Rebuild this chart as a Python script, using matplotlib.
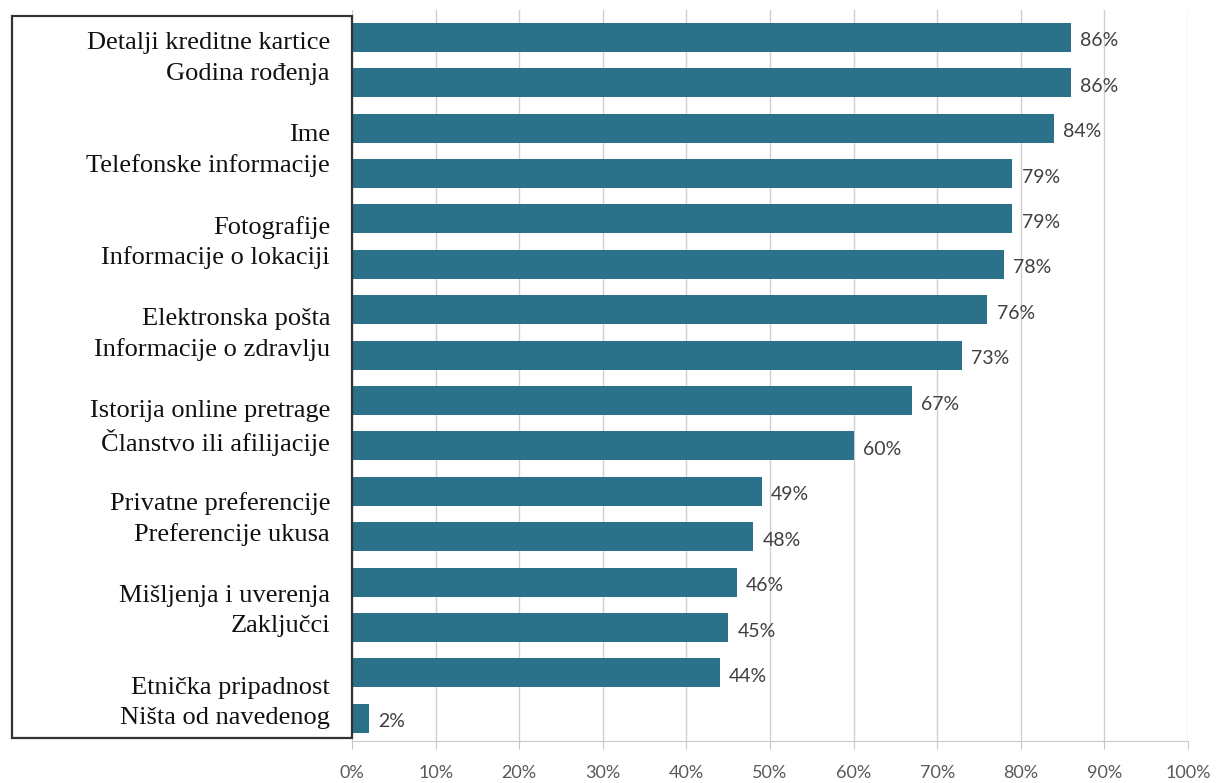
import matplotlib
matplotlib.use("Agg")
import matplotlib.pyplot as plt
from matplotlib.patches import Rectangle
from matplotlib.ticker import FuncFormatter


# ---------------- DATA ----------------

categories = [
    "Detalji kreditne kartice",
    "Godina rođenja",
    "Ime",
    "Telefonske informacije",
    "Fotografije",
    "Informacije o lokaciji",
    "Elektronska pošta",
    "Informacije o zdravlju",
    "Istorija online pretrage",
    "Članstvo ili afilijacije",
    "Privatne preferencije",
    "Preferencije ukusa",
    "Mišljenja i uverenja",
    "Zaključci",
    "Etnička pripadnost",
    "Ništa od navedenog",
]

values = [86, 86, 84, 79, 79, 78, 76, 73, 67, 60, 49, 48, 46, 45, 44, 2]

x_ticks = [0, 10, 20, 30, 40, 50, 60, 70, 80, 90, 100]


# ---------------- FIGURE ----------------

W, H = 1218, 783
fig = plt.figure(figsize=(W / 100, H / 100), dpi=100)
ax = fig.add_axes([352 / W, 1 - 741 / H, (1188 - 352) / W, (741 - 10) / H])

bar_color = "#2b7189"
pos = list(range(len(values)))

ax.barh(pos, values, height=0.64, color=bar_color, zorder=2)

for i, v in zip(pos, values):
    ax.text(v + 1.1, i + 0.08, f"{v}%", va="center", ha="left",
            fontsize=14, family="Lato", color="#404040", zorder=3)

ax.set_xlim(0, 100)
ax.set_ylim(15.5, -0.6)
ax.set_xticks(x_ticks)
ax.xaxis.set_major_formatter(FuncFormatter(lambda x, p: f"{int(x)}%"))
ax.set_yticks([])

ax.grid(axis="x", color="#d0d0d0", linewidth=1.0, zorder=0)
for side in ["top", "right", "left"]:
    ax.spines[side].set_visible(False)
ax.spines["bottom"].set_color("#c8c8c8")

ax.tick_params(axis="x", length=6, color="#c8c8c8", pad=11,
               labelsize=13, labelcolor="#595959")
for lbl in ax.get_xticklabels():
    lbl.set_family("Lato")


# ---------------- LABEL BOX ----------------

box = Rectangle((12 / W, 1 - 738 / H), (352 - 12) / W, (738 - 16) / H,
                transform=fig.transFigure, facecolor="white",
                edgecolor="#333333", linewidth=1.6, zorder=5)
fig.patches.append(box)

# labels go in pairs with an empty line between pairs
line_step = 30.7
for k, name in enumerate(categories):
    row = (k // 2) * 3 + (k % 2)
    ypx = 43 + row * line_step
    fig.text(330 / W, 1 - ypx / H, name, ha="right", va="center",
             fontsize=19, family="Liberation Serif", color="#111111",
             zorder=6)

fig.savefig("out.png", dpi=100, facecolor="white")
